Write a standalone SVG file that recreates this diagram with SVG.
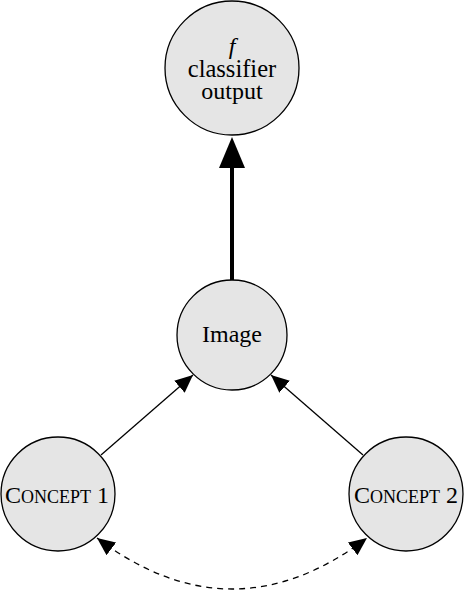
<svg xmlns="http://www.w3.org/2000/svg" width="464" height="592" viewBox="0 0 464 592">
<style>
.node{fill:#e5e5e5;stroke:#000;stroke-width:1.3}
.t{font-family:"Liberation Serif","Times New Roman",serif;font-size:24px;fill:#000;text-anchor:middle}
.sc{font-size:18px}
.edge{stroke:#000;fill:none}
</style>
<defs>
<marker id="ah" viewBox="0 0 18 16" refX="18" refY="8" markerWidth="18" markerHeight="16" markerUnits="userSpaceOnUse" orient="auto-start-reverse">
<path d="M0,0 L18,8 L0,16 Z" fill="#000"/>
</marker>
</defs>
<g id="connectors">
<line class="edge" x1="232" y1="280" x2="232" y2="168" stroke-width="4"/>
<path d="M219,168 L232,137 L245,168 Z" fill="#000"/>
<line class="edge" x1="101" y1="455" x2="193" y2="375" stroke-width="1.3" marker-end="url(#ah)"/>
<line class="edge" x1="363" y1="455" x2="271" y2="375" stroke-width="1.3" marker-end="url(#ah)"/>
<path class="edge" d="M97,538 Q232,640 367,538" stroke-width="1.3" stroke-dasharray="6,5" marker-start="url(#ah)" marker-end="url(#ah)"/>
</g>
<g id="classifier">
<circle class="node" cx="232" cy="68" r="67"/>
<text class="t" x="232" y="54" font-style="italic">f</text>
<text class="t" x="232" y="77" style="font-size:24.5px">classifier</text>
<text class="t" x="232" y="99">output</text>
</g>
<g id="image">
<circle class="node" cx="232" cy="335" r="55"/>
<text class="t" x="232" y="342">Image</text>
</g>
<g id="concept1">
<circle class="node" cx="58" cy="494" r="57"/>
<text class="t" x="57" y="503">C<tspan class="sc">ONCEPT</tspan> 1</text>
</g>
<g id="concept2">
<circle class="node" cx="406" cy="494" r="57"/>
<text class="t" x="406" y="503">C<tspan class="sc">ONCEPT</tspan> 2</text>
</g>
</svg>
